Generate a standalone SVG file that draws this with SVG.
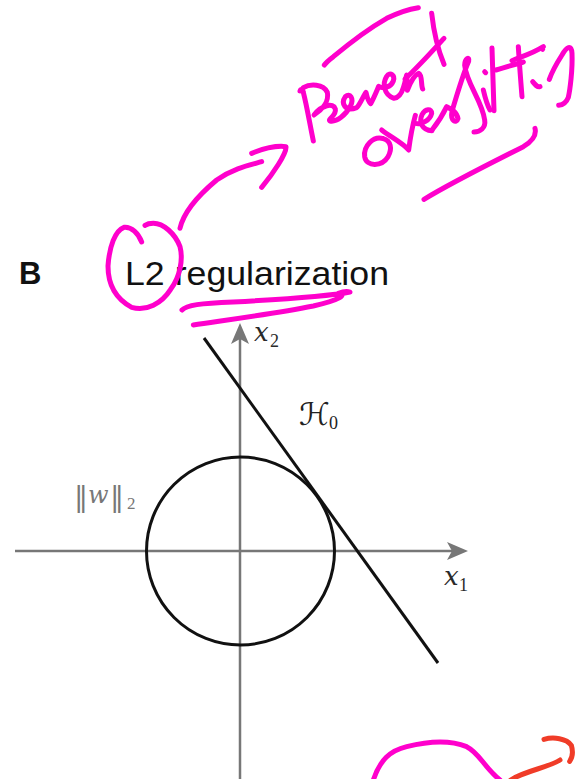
<svg xmlns="http://www.w3.org/2000/svg" width="579" height="779" viewBox="0 0 579 779">
<defs>
<style>
.ink3{fill:none;stroke:#ff00cc;stroke-width:15;stroke-linecap:round;stroke-linejoin:round}
.red3{fill:none;stroke:#f03c28;stroke-width:15;stroke-linecap:round;stroke-linejoin:round}
.axis{stroke:#777;stroke-width:2.5;fill:none}
.blk{stroke:#111;stroke-width:3;fill:none}
.mi{font-family:"DejaVu Serif","Liberation Serif",serif;font-style:italic}
.mr{font-family:"Liberation Serif","DejaVu Serif",serif}
.sym{font-family:"DejaVu Serif","DejaVu Sans",serif}
</style>
</defs>
<rect width="579" height="779" fill="#fff"/>

<g id="title">
<text x="19" y="284" font-family="Liberation Sans, Arial, sans-serif" font-weight="bold" font-size="31" fill="#111">B</text>
<text x="125" y="285" font-family="Liberation Sans, Arial, sans-serif" font-size="34" fill="#111" textLength="264" lengthAdjust="spacingAndGlyphs">L2 regularization</text>
</g>

<g id="axes">
<line class="axis" x1="15" y1="551" x2="454" y2="551"/>
<path d="M468,551 L447,542 L452,551 L447,560 Z" fill="#777"/>
<line class="axis" x1="240" y1="779" x2="240" y2="338"/>
<path d="M240,323 L231,344 L240,339 L249,344 Z" fill="#777"/>
</g>

<g id="norm-ball">
<circle class="blk" cx="240.5" cy="551" r="94"/>
</g>

<g id="hyperplane">
<line class="blk" x1="204" y1="338" x2="438" y2="663"/>
</g>

<g id="labels">
<text class="mi" x="254" y="341" font-size="26" fill="#2a2a2a">x</text>
<text class="mr" x="270" y="347" font-size="18" fill="#2a2a2a">2</text>
<text class="sym" x="299" y="425" font-size="31" fill="#222">ℋ</text>
<text class="mr" x="329" y="429" font-size="18" fill="#222">0</text>
<text class="mi" x="444" y="585" font-size="26" fill="#2a2a2a">x</text>
<text class="mr" x="459" y="591" font-size="18" fill="#2a2a2a">1</text>
<text class="sym" x="74" y="506" font-size="28" fill="#777">‖</text>
<text class="mi" x="88" y="503" font-size="24" fill="#777">w</text>
<text class="sym" x="110" y="506" font-size="28" fill="#777">‖</text>
<text class="mr" x="127" y="509" font-size="17" fill="#777">2</text>
</g>

<g id="annotations">
<g id="prevent" transform="translate(290,5) scale(0.33333)">
<path class="ink3" d="M103,180 Q110,170 130,155 Q220,80 290,40 Q340,15 385,8"/>
<path class="ink3" d="M70,408 C60,360 50,300 40,262 C38,250 32,252 30,258"/>
<path class="ink3" d="M40,248 C60,236 100,236 112,262 C118,290 95,315 72,330 C95,300 130,292 136,312 C140,332 112,342 120,348 C140,352 168,330 182,302 C192,280 180,262 166,275 C152,295 165,322 200,308 C212,295 220,272 228,262 C232,280 236,292 242,296 C252,278 260,258 266,244 C280,252 302,248 310,228 C316,210 300,200 290,214 C276,236 282,270 312,280 C328,278 336,262 340,248 C346,230 348,216 350,210 C352,228 350,244 352,256 C362,230 372,210 386,205 C398,210 392,240 398,252"/>
<path class="ink3" d="M425,25 C430,70 442,130 462,178"/>
<path class="ink3" d="M345,222 C385,185 430,135 462,100"/>
</g>
<g id="overfitting" transform="translate(350,40) scale(0.33333)">
<path class="ink3" d="M100,296 C70,286 40,318 44,350 C50,382 96,380 114,350 C128,326 122,302 100,296"/>
<path class="ink3" d="M95,270 C120,290 160,310 176,330 C180,300 186,262 196,226"/>
<path class="ink3" d="M196,250 C216,255 240,240 245,220 C245,205 226,205 216,224 C206,246 216,270 246,272"/>
<path class="ink3" d="M246,270 C262,250 276,230 290,200 C302,206 320,214 324,236 C320,250 300,246 306,214 C322,160 340,100 356,64 C360,48 344,54 344,76 C350,132 396,182 404,240 C408,264 390,276 372,276"/>
<path class="ink3" d="M400,150 C406,176 412,196 420,210"/>
<path class="ink3" d="M404,95 L407,98"/>
<path class="ink3" d="M426,24 C428,90 430,150 432,212"/>
<path class="ink3" d="M438,90 C470,80 500,72 520,66"/>
<path class="ink3" d="M505,20 C508,70 512,120 516,170"/>
<path class="ink3" d="M486,62 C510,50 540,45 580,20"/>
<path class="ink3" d="M548,125 C556,135 562,142 570,140"/>
<path class="ink3" d="M575,25 L578,28"/>
<path class="ink3" d="M598,118 C606,95 620,70 636,45 C650,20 664,12 666,40 C668,90 660,150 655,172 C648,190 636,195 626,196"/>
<path class="ink3" d="M222,478 C300,430 420,370 520,320 C545,305 560,285 555,265"/>
</g>
<g id="l2-circle" transform="translate(100,210) scale(0.33333)">
<path class="ink3" d="M125,96 C115,70 95,50 72,52 C45,62 28,110 24,168 C24,220 45,265 95,292 C140,305 185,280 212,238 C240,200 250,150 240,110 C225,70 190,40 160,40 C148,40 138,44 135,46"/>
<path class="ink3" d="M246,300 C260,285 300,280 400,276 C550,268 680,260 750,246 C738,242 725,246 715,250 C742,254 720,270 640,288 C520,312 380,330 280,345"/>
</g>
<g id="arrow" transform="translate(140,100) scale(0.33333)">
<path class="ink3" d="M120,385 C130,340 170,290 230,240 C280,205 330,195 365,185"/>
<path class="ink3" d="M335,160 C360,150 400,135 438,140 C440,160 400,220 365,262"/>
</g>
<g id="bottom-marks" transform="translate(340,720) scale(0.33333)">
<path class="ink3" d="M100,180 C120,120 150,92 200,80 C260,65 330,60 380,80 C420,100 430,140 480,180"/>
<path class="red3" d="M512,180 C560,150 620,145 660,120"/>
<path class="red3" d="M612,58 C640,50 680,55 694,76 C700,96 696,114 689,124"/>
</g>
</g>
</svg>
